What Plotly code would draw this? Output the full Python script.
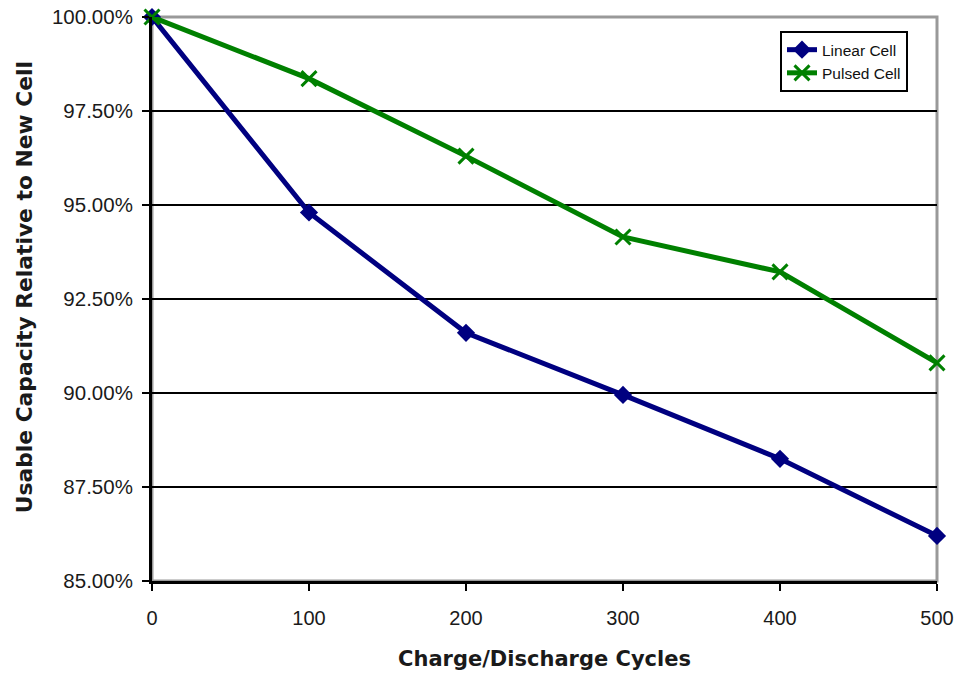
import plotly.graph_objects as go

cycles = [0, 100, 200, 300, 400, 500]
linear_cell = [100.0, 94.8, 91.6, 89.95, 88.25, 86.2]
pulsed_cell = [100.0, 98.36, 96.3, 94.15, 93.22, 90.8]
y_ticks = [85.0, 87.5, 90.0, 92.5, 95.0, 97.5, 100.0]
y_tick_labels = [f"{v:.2f}%" for v in y_ticks]
x_tick_labels = [str(c) for c in cycles]

FONT = "Liberation Sans, Arial, sans-serif"
TFONT = "DejaVu Sans, sans-serif"

fig = go.Figure()
fig.add_trace(go.Scatter(
    x=cycles, y=linear_cell, name="Linear Cell", mode="lines+markers",
    line=dict(color="#000080", width=5),
    marker=dict(symbol="diamond", size=14, color="#000080"),
    cliponaxis=False,
))
fig.add_trace(go.Scatter(
    x=cycles, y=pulsed_cell, name="Pulsed Cell", mode="lines+markers",
    line=dict(color="#008000", width=5),
    marker=dict(symbol="x-thin", size=15, color="#008000",
                line=dict(color="#008000", width=3)),
    cliponaxis=False,
))

# gray plot-area border (Excel style)
fig.add_shape(type="rect", xref="paper", yref="paper", x0=0, y0=0, x1=1, y1=1,
              line=dict(color="#999999", width=3), layer="below")

# y-axis title as annotation for precise placement
fig.add_annotation(
    text="<b>Usable Capacity Relative to New Cell</b>",
    xref="paper", yref="paper", x=-0.163, y=0.521,
    xanchor="center", yanchor="middle", textangle=-90, showarrow=False,
    font=dict(size=21.8, family=TFONT, color="#1a1a1a"),
)

fig.update_layout(
    width=958, height=673,
    margin=dict(l=152, r=21, t=17, b=92),
    paper_bgcolor="white", plot_bgcolor="white",
    font=dict(family=FONT, color="#1a1a1a"),
    showlegend=True,
    legend=dict(
        x=0.8, y=0.975, xanchor="left", yanchor="top",
        bgcolor="white", bordercolor="black", borderwidth=2,
        font=dict(size=15.5, family=FONT, color="#111"),
        tracegroupgap=0,
    ),
    xaxis=dict(
        range=[0, 500], tickvals=cycles, ticktext=x_tick_labels,
        automargin=False,
        showgrid=False, zeroline=False,
        showline=True, linecolor="black", linewidth=3,
        ticks="outside", ticklen=7, tickwidth=2, tickcolor="black",
        ticklabelstandoff=10,
        tickfont=dict(size=20, family=FONT, color="#1a1a1a"),
        title=dict(text="<b>Charge/Discharge Cycles</b>",
                   font=dict(size=21, family=TFONT, color="#1a1a1a"), standoff=24),
    ),
    yaxis=dict(
        range=[85, 100], tickvals=y_ticks, ticktext=y_tick_labels,
        automargin=False,
        showgrid=True, gridcolor="black", gridwidth=2,
        zeroline=False,
        showline=True, linecolor="black", linewidth=3,
        ticks="outside", ticklen=7, tickwidth=2, tickcolor="black",
        ticklabelstandoff=5,
        tickfont=dict(size=20.5, family=FONT, color="#1a1a1a"),
    ),
)

fig.write_html("out.html", config={"displayModeBar": False},
               post_script="document.body.style.margin='0';")
